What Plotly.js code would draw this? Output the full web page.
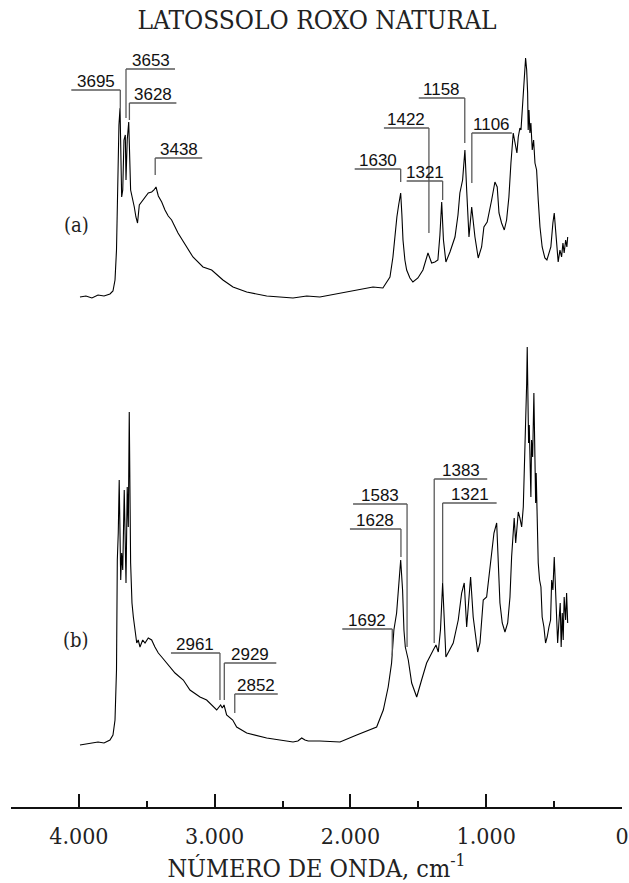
<!DOCTYPE html>
<html>
<head>
<meta charset="utf-8">
<script src="https://cdn.plot.ly/plotly-3.0.1.min.js"></script>
<style>
  html, body { margin: 0; padding: 0; background: #fff; }
  #chart { width: 629px; height: 883px; }
</style>
</head>
<body>
<div id="chart"></div>
<script>
// ---------- DATA (wavenumber, cm-1 ; relative absorbance, arbitrary units) ----------
const wnA = [3992,3948,3904,3859,3815,3771,3749,3734,3723,3712,3705,3697,3690,3685,3677,3668,3658,3653,3644,3633,3619,3607,3592,3580,3568,3555,3538,3513,3489,3464,3447,3432,3415,3390,3366,3342,3317,3270,3206,3160,3086,3022,2939,2865,2764,2617,2423,2322,2225,2077,1954,1834,1761,1709,1687,1672,1658,1645,1630,1621,1613,1599,1586,1562,1540,1503,1466,1429,1402,1378,1356,1341,1328,1315,1297,1267,1230,1208,1194,1174,1157,1144,1127,1107,1096,1083,1059,1034,1017,993,960,936,919,906,887,867,850,833,818,808,801,789,774,764,752,744,735,727,720,710,702,695,691,685,678,671,661,651,641,629,617,604,588,568,553,538,524,509,499,489,479,470,457,445,435,426,415,406,400];
const absA = [520,521,519,522,521,523,526,537,567,647,692,709,657,620,627,677,682,637,677,695,627,620,610,600,594,612,615,620,624,625,627,630,621,615,607,601,597,584,570,560,550,547,537,530,525,521,519,521,520,524,527,530,529,540,560,582,600,612,624,602,577,557,547,539,535,539,547,564,554,555,557,582,615,577,555,565,580,602,624,637,667,627,580,610,595,580,559,570,590,595,617,635,630,604,594,587,597,620,654,680,684,675,664,680,689,687,704,720,740,759,747,724,687,707,684,694,667,677,654,647,617,590,570,559,557,564,570,594,604,587,564,555,567,560,574,564,577,570,580];

const wnB = [3992,3948,3904,3859,3815,3771,3749,3734,3723,3717,3710,3703,3692,3685,3677,3666,3653,3644,3636,3629,3619,3609,3599,3587,3574,3563,3550,3530,3513,3489,3464,3440,3415,3390,3353,3292,3231,3182,3108,3059,2985,2956,2944,2931,2912,2887,2867,2838,2764,2617,2423,2387,2359,2335,2311,2225,2077,1954,1807,1758,1722,1697,1680,1660,1645,1630,1616,1606,1596,1574,1549,1512,1476,1439,1390,1370,1353,1337,1321,1308,1297,1243,1206,1181,1162,1144,1115,1096,1063,1046,1022,997,973,943,923,912,899,882,862,842,825,813,801,794,783,774,764,752,739,727,720,710,702,698,693,688,683,678,671,666,658,649,641,636,632,624,617,607,597,588,575,563,551,538,526,518,509,499,492,482,474,465,455,448,440,433,426,415,408,400];
const absB = [72,73,74,75,74,77,82,97,147,257,284,337,237,264,247,327,234,330,290,405,254,214,200,187,174,177,170,177,174,179,177,170,164,160,154,144,137,127,120,117,107,112,109,112,102,99,97,90,84,79,75,76,79,77,76,76,75,82,90,107,130,154,187,204,227,257,227,187,170,157,134,120,137,154,167,172,165,187,234,187,160,174,197,224,234,190,240,200,165,174,217,220,247,284,294,254,214,194,185,194,220,260,294,299,274,287,305,299,290,310,344,377,434,470,420,374,392,347,320,377,360,424,370,314,344,270,254,237,230,200,190,174,180,190,197,237,227,260,234,187,174,194,214,170,204,177,220,197,224,194];

// peak labels
const peaksA = [3695, 3653, 3628, 3438, 1630, 1422, 1321, 1158, 1106];
const peaksB = [2961, 2929, 2852, 1692, 1628, 1583, 1383, 1321];

// axis ticks
const tickVals = [4000, 3000, 2000, 1000, 0];
const tickText = ['4.000', '3.000', '2.000', '1.000', '0'];
const minorVals = [4500, 3500, 2500, 1500, 500];

// ---------- label placement (layout only) ----------
// top/bottom of leader in y-units, side of underline (+1 right, -1 left), underline length px
const placeA = {
  top:  [727, 748, 714, 659, 648, 689, 636, 719, 684],
  bot:  [709, 699, 697, 642, 635, 584, 617, 674, 634],
  side: [-1, 1, 1, 1, -1, -1, -1, -1, 1],
  len:  [49, 49, 47, 47, 46, 45, 36, 46, 40]
};
const placeB = {
  top:  [164, 154, 123, 188, 288, 313, 338, 314],
  bot:  [117, 117, 104, 162, 260, 170, 174, 234],
  side: [-1, 1, 1, -1, -1, -1, 1, 1],
  len:  [49, 52, 43, 50, 51, 54, 53, 54]
};

const LINE_COL = '#5a5a5a';
const shapes = [];
const annotations = [];

function addLabels(peaks, pl) {
  peaks.forEach((p, i) => {
    shapes.push({type: 'line', xref: 'x', yref: 'y', x0: p, x1: p, y0: pl.bot[i], y1: pl.top[i],
      line: {color: LINE_COL, width: 1.3}});
    shapes.push({type: 'line', xref: 'x', yref: 'y', xsizemode: 'pixel', xanchor: p,
      x0: 0, x1: pl.side[i] * pl.len[i], y0: pl.top[i], y1: pl.top[i],
      line: {color: LINE_COL, width: 1.3}});
    annotations.push({xref: 'x', yref: 'y', x: p, y: pl.top[i], xshift: pl.side[i] * pl.len[i] / 2,
      yshift: -3, xanchor: 'center', yanchor: 'bottom', showarrow: false, text: String(p),
      font: {family: 'Liberation Sans, Arial, sans-serif', size: 17, color: '#111'}});
  });
}
addLabels(peaksA, placeA);
addLabels(peaksB, placeB);

const serif = 'DejaVu Serif Condensed, DejaVu Serif, serif';
annotations.push({xref: 'x', yref: 'y', x: 4014, y: 592, text: '(a)', showarrow: false,
  font: {family: serif, size: 20, color: '#222'}});
annotations.push({xref: 'x', yref: 'y', x: 4019, y: 177, text: '(b)', showarrow: false,
  font: {family: serif, size: 20, color: '#222'}});

const traces = [
  {x: wnA, y: absA, type: 'scatter', mode: 'lines', line: {color: '#000', width: 1.1}, hoverinfo: 'skip'},
  {x: wnB, y: absB, type: 'scatter', mode: 'lines', line: {color: '#000', width: 1.1}, hoverinfo: 'skip'}
];

const layout = {
  width: 629, height: 883,
  margin: {l: 11, r: 7, t: 40, b: 76},
  paper_bgcolor: '#fff', plot_bgcolor: '#fff',
  showlegend: false,
  title: {text: 'LATOSSOLO ROXO NATURAL', x: 0.504, xanchor: 'center', yref: 'container', y: 0.978, yanchor: 'middle',
    font: {family: serif, size: 26, color: '#222'}},
  xaxis: {
    range: [4500, 0], showgrid: false, zeroline: false,
    showline: true, linecolor: '#111', linewidth: 2,
    ticks: 'inside', ticklen: 13, tickwidth: 2, tickcolor: '#111',
    tickmode: 'array', tickvals: tickVals, ticktext: tickText,
    minor: {tickmode: 'array', tickvals: minorVals, ticks: 'inside', ticklen: 6, tickwidth: 2, tickcolor: '#111', showgrid: false},
    tickfont: {family: serif, size: 23, color: '#222'},
    ticklabelstandoff: 7,
    title: {text: 'NÚMERO DE ONDA, cm<sup>-1</sup>', font: {family: serif, size: 25, color: '#222'}, standoff: 20}
  },
  yaxis: {range: [10, 777], visible: false, showgrid: false, zeroline: false},
  shapes: shapes,
  annotations: annotations
};

Plotly.newPlot('chart', traces, layout, {staticPlot: true, displayModeBar: false});
</script>
</body>
</html>
